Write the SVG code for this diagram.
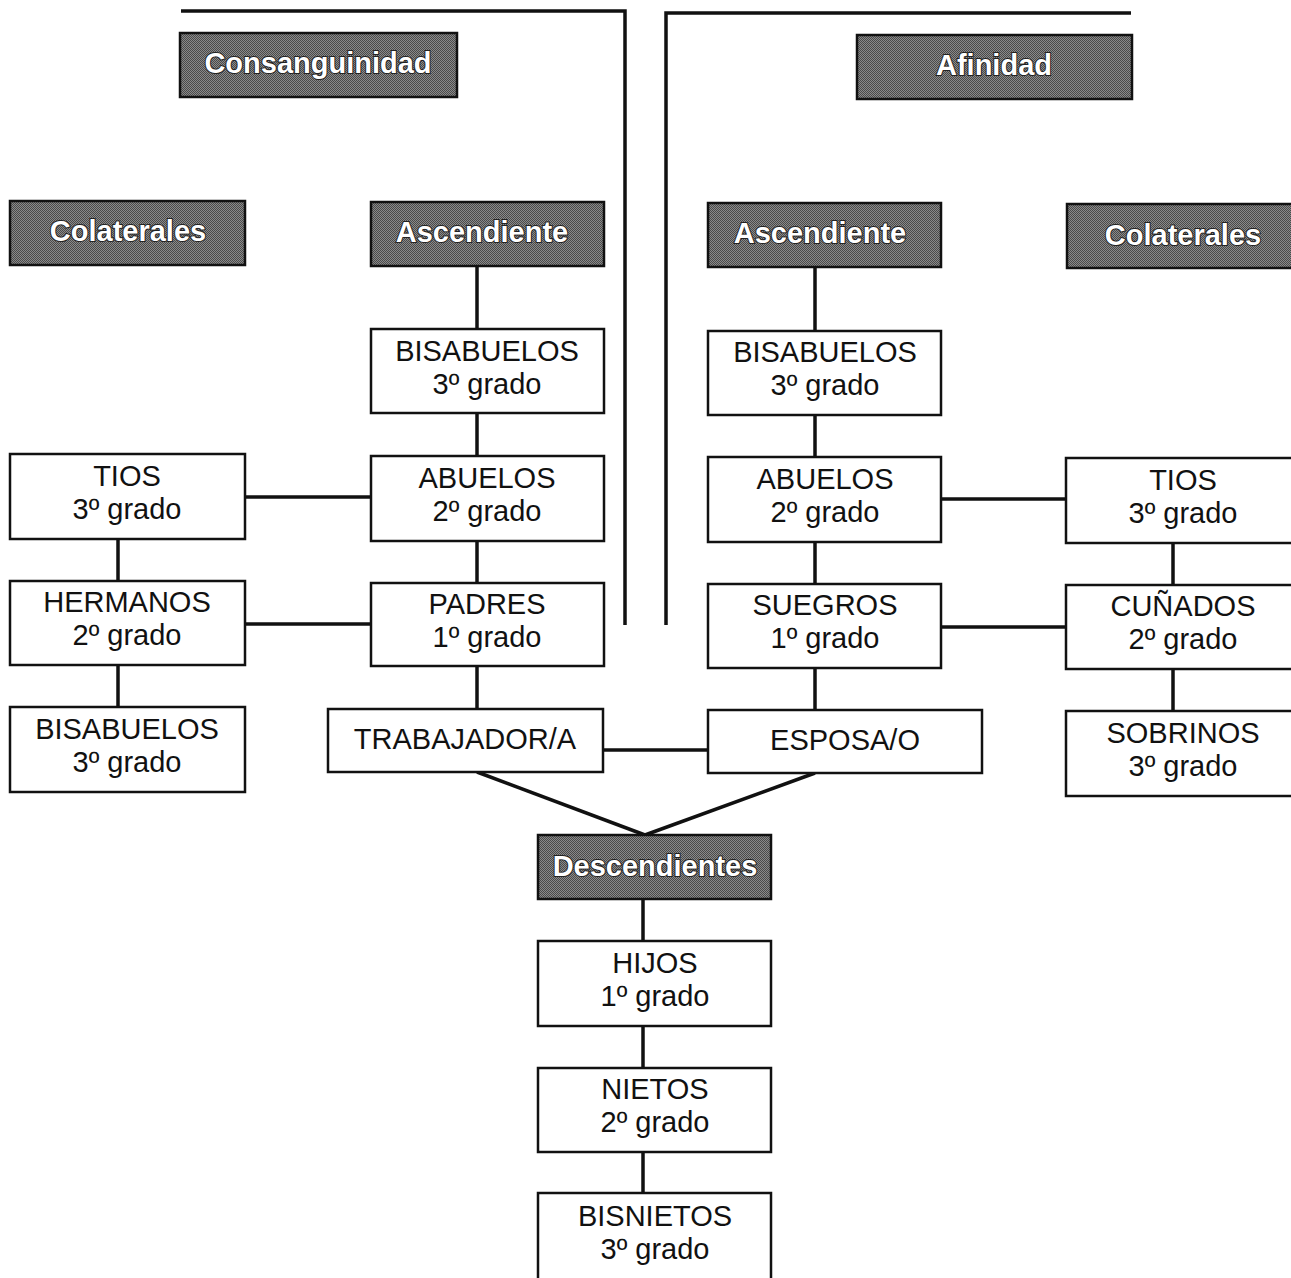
<svg xmlns="http://www.w3.org/2000/svg" width="1291" height="1278" viewBox="0 0 1291 1278">
<defs>
<pattern id="dither" width="2" height="2" patternUnits="userSpaceOnUse">
<rect width="2" height="2" fill="#8a8a8a"/>
<rect width="1" height="1" fill="#4a4a4a"/>
<rect x="1" y="1" width="1" height="1" fill="#4a4a4a"/>
</pattern>
</defs>
<style>
.hdr rect{fill:url(#dither);stroke:#111;stroke-width:2.5}
.hdr text{font-family:"Liberation Sans",Arial,sans-serif;font-weight:bold;font-size:29px;fill:#fff;stroke:#222;stroke-width:2;paint-order:stroke;text-anchor:middle}
.box rect{fill:#fff;stroke:#111;stroke-width:2.5}
.box text{font-family:"Liberation Sans",Arial,sans-serif;font-size:29px;fill:#111;text-anchor:middle}
.conn line,.conn polyline{stroke:#111;stroke-width:3.5;fill:none}
</style>
<g class="conn" id="connectors">
<polyline points="181,11 625,11 625,625"/>
<polyline points="1131,13 666,13 666,625"/>
<line x1="477" y1="266" x2="477" y2="710"/>
<line x1="815" y1="267" x2="815" y2="711"/>
<line x1="118" y1="539" x2="118" y2="707"/>
<line x1="1173" y1="543" x2="1173" y2="711"/>
<line x1="245" y1="497" x2="371" y2="497"/>
<line x1="245" y1="624" x2="371" y2="624"/>
<line x1="941" y1="499" x2="1066" y2="499"/>
<line x1="941" y1="627" x2="1066" y2="627"/>
<line x1="603" y1="750" x2="708" y2="750"/>
<line x1="477" y1="772" x2="645" y2="835"/>
<line x1="815" y1="773" x2="645" y2="835"/>
<line x1="643" y1="899" x2="643" y2="1195"/>
</g>
<g class="hdr" id="consanguinidad"><rect x="180" y="33" width="277" height="64"/><text x="318" y="73">Consanguinidad</text></g>
<g class="hdr" id="afinidad"><rect x="857" y="35" width="275" height="64"/><text x="994" y="75">Afinidad</text></g>
<g class="hdr" id="colaterales-izq"><rect x="10" y="201" width="235" height="64"/><text x="128" y="241">Colaterales</text></g>
<g class="hdr" id="ascendiente-izq"><rect x="371" y="202" width="233" height="64"/><text x="482" y="242">Ascendiente</text></g>
<g class="hdr" id="ascendiente-der"><rect x="708" y="203" width="233" height="64"/><text x="820" y="243">Ascendiente</text></g>
<g class="hdr" id="colaterales-der"><rect x="1067" y="204" width="226" height="64"/><text x="1183" y="245">Colaterales</text></g>
<g class="hdr" id="descendientes"><rect x="538" y="835" width="233" height="64"/><text x="655" y="876">Descendientes</text></g>

<g class="box" id="bisabuelos-c"><rect x="371" y="329" width="233" height="84"/><text x="487" y="361">BISABUELOS</text><text x="487" y="394">3º grado</text></g>
<g class="box" id="abuelos-c"><rect x="371" y="456" width="233" height="85"/><text x="487" y="488">ABUELOS</text><text x="487" y="521">2º grado</text></g>
<g class="box" id="padres"><rect x="371" y="583" width="233" height="83"/><text x="487" y="614">PADRES</text><text x="487" y="647">1º grado</text></g>
<g class="box" id="trabajador"><rect x="328" y="709" width="275" height="63"/><text x="465" y="749">TRABAJADOR/A</text></g>
<g class="box" id="tios-c"><rect x="10" y="454" width="235" height="85"/><text x="127" y="486">TIOS</text><text x="127" y="519">3º grado</text></g>
<g class="box" id="hermanos"><rect x="10" y="581" width="235" height="84"/><text x="127" y="612">HERMANOS</text><text x="127" y="645">2º grado</text></g>
<g class="box" id="bisabuelos-col"><rect x="10" y="707" width="235" height="85"/><text x="127" y="739">BISABUELOS</text><text x="127" y="772">3º grado</text></g>

<g class="box" id="bisabuelos-a"><rect x="708" y="331" width="233" height="84"/><text x="825" y="362">BISABUELOS</text><text x="825" y="395">3º grado</text></g>
<g class="box" id="abuelos-a"><rect x="708" y="457" width="233" height="85"/><text x="825" y="489">ABUELOS</text><text x="825" y="522">2º grado</text></g>
<g class="box" id="suegros"><rect x="708" y="584" width="233" height="84"/><text x="825" y="615">SUEGROS</text><text x="825" y="648">1º grado</text></g>
<g class="box" id="esposa"><rect x="708" y="710" width="274" height="63"/><text x="845" y="750">ESPOSA/O</text></g>
<g class="box" id="tios-a"><rect x="1066" y="458" width="227" height="85"/><text x="1183" y="490">TIOS</text><text x="1183" y="523">3º grado</text></g>
<g class="box" id="cunados"><rect x="1066" y="585" width="227" height="84"/><text x="1183" y="616">CUÑADOS</text><text x="1183" y="649">2º grado</text></g>
<g class="box" id="sobrinos"><rect x="1066" y="711" width="227" height="85"/><text x="1183" y="743">SOBRINOS</text><text x="1183" y="776">3º grado</text></g>

<g class="box" id="hijos"><rect x="538" y="941" width="233" height="85"/><text x="655" y="973">HIJOS</text><text x="655" y="1006">1º grado</text></g>
<g class="box" id="nietos"><rect x="538" y="1068" width="233" height="84"/><text x="655" y="1099">NIETOS</text><text x="655" y="1132">2º grado</text></g>
<g class="box" id="bisnietos"><rect x="538" y="1193" width="233" height="90"/><text x="655" y="1226">BISNIETOS</text><text x="655" y="1259">3º grado</text></g>
</svg>
